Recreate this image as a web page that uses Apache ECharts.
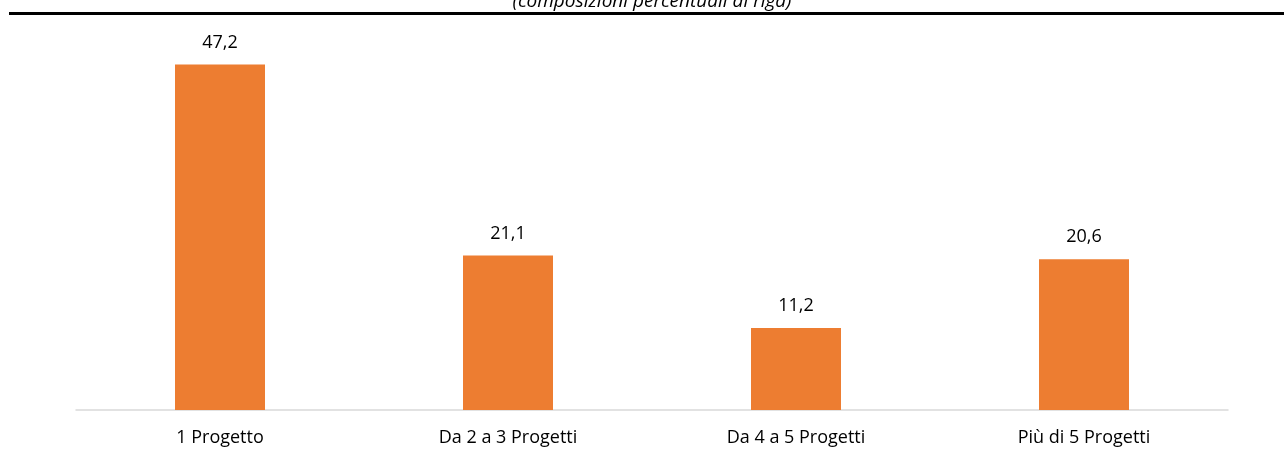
<!DOCTYPE html>
<html>
<head>
<meta charset="utf-8">
<script src="https://cdn.jsdelivr.net/npm/echarts@6/dist/echarts.min.js"></script>
<style>
  html, body { margin: 0; padding: 0; background: #fff; }
  #main { width: 1284px; height: 462px; }
</style>
</head>
<body>
<div id="main"></div>
<script>
const categories = ['1 Progetto', 'Da 2 a 3 Progetti', 'Da 4 a 5 Progetti', 'Più di 5 Progetti'];
const values = [47.2, 21.1, 11.2, 20.6];
const subtitle = '(composizioni percentuali di riga)';

const chart = echarts.init(document.getElementById('main'), null, { renderer: 'canvas' });

chart.setOption({
  backgroundColor: '#fff',
  animation: false,
  grid: { left: 76, right: 56, top: 44, bottom: 52 },
  graphic: [
    {
      type: 'text',
      x: 652,
      y: 11,
      style: {
        text: subtitle,
        font: 'italic 19px "Open Sans", sans-serif',
        fill: '#000',
        align: 'center',
        verticalAlign: 'bottom'
      }
    },
    {
      type: 'line',
      shape: { x1: 9, y1: 13.5, x2: 1284, y2: 13.5 },
      style: { stroke: '#000', lineWidth: 3 }
    }
  ],
  xAxis: {
    type: 'category',
    data: categories,
    axisLine: { lineStyle: { color: '#d9d9d9', width: 1.5 } },
    axisTick: { show: false },
    axisLabel: {
      color: '#000',
      fontSize: 18,
      fontFamily: '"Open Sans", sans-serif',
      margin: 19
    }
  },
  yAxis: {
    type: 'value',
    min: 0,
    max: 50,
    show: false,
    splitLine: { show: false }
  },
  series: [{
    type: 'bar',
    data: values,
    barWidth: 90,
    itemStyle: { color: '#ED7D31' },
    label: {
      show: true,
      position: 'top',
      distance: 13,
      color: '#000',
      fontSize: 18,
      fontFamily: '"Open Sans", sans-serif',
      formatter: p => p.value.toFixed(1).replace('.', ',')
    }
  }]
});
</script>
</body>
</html>
